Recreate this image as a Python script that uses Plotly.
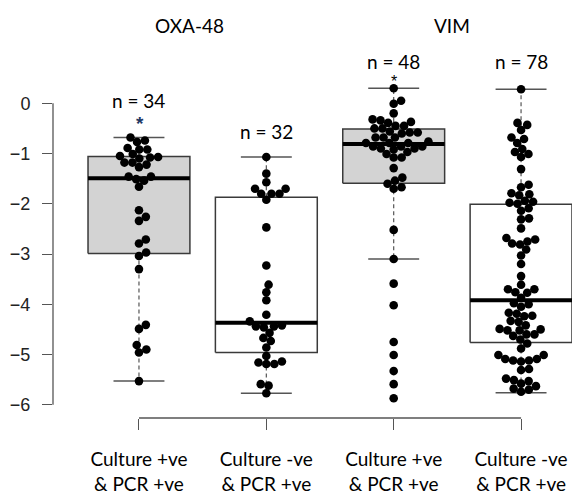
import numpy as np
import plotly.graph_objects as go

# ---------------- data ----------------
categories = ["Culture +ve<br>& PCR +ve", "Culture -ve<br>& PCR +ve",
              "Culture +ve<br>& PCR +ve", "Culture -ve<br>& PCR +ve"]
panel_titles = ["OXA-48", "VIM"]
n_labels = ["n = 34", "n = 32", "n = 48", "n = 78"]
y_ticks = [0, -1, -2, -3, -4, -5, -6]

oxa_culture_pos = [-0.68, -0.77, -0.74, -0.92, -0.92, -0.89, -1.07, -1.18, -1.18, -1.08,
                   -1.01, -1.10, -1.05, -1.27, -1.22, -1.46, -1.51, -1.54, -1.46, -1.66,
                   -2.13, -2.34, -2.26, -2.71, -2.79, -3.04, -2.97, -3.30, -4.41, -4.49,
                   -4.81, -4.96, -4.90, -5.53]
oxa_culture_neg = [-1.07, -1.40, -1.57, -1.70, -1.70, -1.80, -1.80, -1.80, -1.92, -2.47,
                   -3.23, -3.61, -3.76, -3.92, -4.21, -4.34, -4.44, -4.46, -4.44, -4.42,
                   -4.57, -4.67, -4.73, -4.86, -5.03, -5.16, -5.19, -5.19, -5.14, -5.59,
                   -5.62, -5.77]
vim_culture_pos = [0.30, 0.05, -0.01, -0.20, -0.32, -0.34, -0.37, -0.39, -0.45, -0.45,
                   -0.50, -0.50, -0.56, -0.58, -0.60, -0.68, -0.68, -0.76, -0.79, -0.79,
                   -0.86, -0.86, -0.86, -0.90, -0.90, -0.92, -0.97, -1.01, -1.08, -1.08,
                   -1.29, -1.48, -1.54, -1.60, -1.67, -1.70, -0.58, -0.68, -0.79,
                   -2.52, -3.10, -3.59, -4.02, -4.75, -5.01, -5.33, -5.59, -5.87]
vim_culture_neg = [0.28, -0.39, -0.43, -0.53, -0.68, -0.71, -0.79, -0.91, -0.97, -1.01,
                   -1.07, -1.31, -1.62, -1.67, -1.81, -1.83, -1.79, -2.00, -1.96, -1.98,
                   -1.94, -2.14, -2.09, -2.29, -2.31, -2.49, -2.68, -2.71,
                   -2.79, -2.81, -2.75, -2.91, -3.03, -3.20, -3.44, -3.61, -3.70, -3.77,
                   -3.76, -3.70, -3.87, -4.00, -4.05, -3.98, -4.17, -4.19, -4.24, -4.23,
                   -4.33, -4.35, -4.42, -4.52, -4.60, -4.49, -4.52, -4.60, -4.50,
                   -4.63, -4.70, -4.78, -4.88, -5.01, -5.09, -5.12, -5.14, -5.12, -5.09,
                   -5.01, -5.31, -5.29, -5.53, -5.58, -5.68, -5.74, -5.51, -5.70, -5.63,
                   -5.48]
series = [oxa_culture_pos, oxa_culture_neg, vim_culture_pos, vim_culture_neg]

# box statistics
box_lower = [-5.53, -5.77, -3.10, -5.76]
box_q1 = [-2.99, -4.96, -1.59, -4.76]
box_median = [-1.49, -4.37, -0.81, -3.92]
box_q3 = [-1.06, -1.87, -0.51, -2.01]
box_upper = [-0.68, -1.07, 0.30, 0.28]
box_fill = ["#d3d3d3", "#ffffff", "#d3d3d3", "#ffffff"]

# ---------------- layout geometry ----------------
W, H = 572, 495
ML, MR, MT, MB = 53, 0, 40, 70
XR = [0.325, 4.40]
YR = [-6.264, 1.26]
px_per_x = (W - ML - MR) / (XR[1] - XR[0])
px_per_y = (H - MT - MB) / (YR[1] - YR[0])
DOT = 8.0  # beeswarm spacing in px


def swarm(values):
    """Beeswarm 'swarm' placement (as in R beeswarm, priority ascending)."""
    v = np.asarray(values, float)
    order = np.argsort(v, kind="stable")
    ys = v[order] * px_per_y / DOT
    offs = np.zeros(len(ys))
    for i in range(1, len(ys)):
        yi = ys[i]
        pre_y, pre_x = ys[:i], offs[:i]
        hit = (pre_y - yi) ** 2 < 1
        py, pxx = pre_y[hit], pre_x[hit]
        d = np.sqrt(1 - (yi - py) ** 2)
        cand = np.concatenate([[0.0], pxx + d, pxx - d])
        bad = np.array([np.any((yi - py) ** 2 + (c - pxx) ** 2 < 0.999) for c in cand])
        cand[bad] = np.inf
        offs[i] = cand[np.argmin(np.abs(cand))]
    out = np.empty(len(v))
    out[order] = offs * DOT / px_per_x
    return out


fig = go.Figure()
HW, CAP = 0.4, 0.2
for i in range(4):
    c = i + 1
    # box
    fig.add_trace(go.Scatter(
        x=[c - HW, c + HW, c + HW, c - HW, c - HW],
        y=[box_q1[i], box_q1[i], box_q3[i], box_q3[i], box_q1[i]],
        mode="lines", fill="toself", fillcolor=box_fill[i],
        line=dict(color="#3a3a3a", width=1.5), hoverinfo="skip", showlegend=False))
    # whiskers (dashed)
    for a, b in [(box_q3[i], box_upper[i]), (box_q1[i], box_lower[i])]:
        fig.add_trace(go.Scatter(x=[c, c], y=[a, b], mode="lines",
                                 line=dict(color="#555555", width=1.2, dash="4px,3px"),
                                 hoverinfo="skip", showlegend=False))
    # caps
    for b in [box_upper[i], box_lower[i]]:
        fig.add_trace(go.Scatter(x=[c - CAP, c + CAP], y=[b, b], mode="lines",
                                 line=dict(color="#555555", width=1.5),
                                 hoverinfo="skip", showlegend=False))
    # median
    fig.add_trace(go.Scatter(x=[c - HW, c + HW], y=[box_median[i]] * 2, mode="lines",
                             line=dict(color="#000000", width=4),
                             hoverinfo="skip", showlegend=False))

for i, vals in enumerate(series):
    xo = swarm(vals)
    fig.add_trace(go.Scatter(
        x=(i + 1) + xo, y=vals, mode="markers",
        marker=dict(color="#000000", size=8.6, line=dict(width=0)),
        showlegend=False, cliponaxis=False))

# axis lines (R style: only spanning the ticks)
fig.add_shape(type="line", xref="paper", yref="y", x0=0, x1=0,
              y0=min(y_ticks), y1=max(y_ticks), line=dict(color="#555555", width=1.3))
fig.add_shape(type="line", xref="x", yref="paper", x0=1, x1=4, y0=0, y1=0,
              line=dict(color="#555555", width=1.3))

label_font = dict(family="Lato, Calibri, sans-serif", size=19, color="#000000")
ann = []
title_x = [1.4, 3.46]
for t, xx in zip(panel_titles, title_x):
    ann.append(dict(x=xx, y=1.039, xref="x", yref="paper", yanchor="middle",
                    text=t, showarrow=False, font=label_font))
n_y = [0.06, -0.56, 0.84, 0.84]
for i, t in enumerate(n_labels):
    ann.append(dict(x=i + 1, y=n_y[i], xref="x", yref="y", yanchor="middle",
                    text=t, showarrow=False, font=label_font))
ann.append(dict(x=1.01, y=-0.40, xref="x", yref="y", yanchor="middle", text="<b>*</b>",
                showarrow=False,
                font=dict(family="Liberation Sans, Arial", size=19, color="#1f3864")))
ann.append(dict(x=3.0, y=0.44, xref="x", yref="y", yanchor="middle", text="*",
                showarrow=False,
                font=dict(family="Liberation Sans, Arial", size=16, color="#000000")))

fig.update_layout(
    width=W, height=H,
    margin=dict(l=ML, r=MR, t=MT, b=MB, pad=0),
    paper_bgcolor="white", plot_bgcolor="white",
    showlegend=False,
    annotations=ann,
    xaxis=dict(range=XR, showgrid=False, zeroline=False, showline=False,
               tickmode="array", tickvals=[1, 2, 3, 4], ticktext=categories,
               ticks="outside", ticklen=11, tickwidth=1.3, tickcolor="#555555",
               tickfont=label_font, ticklabelstandoff=13),
    yaxis=dict(range=YR, showgrid=False, zeroline=False, showline=False,
               tickmode="array", tickvals=y_ticks,
               ticktext=[str(v) if v == 0 else "\u2212" + str(-v) for v in y_ticks],
               ticks="outside", ticklen=10, tickwidth=1.3, tickcolor="#555555",
               tickfont=dict(family="Liberation Sans, Arial", size=18, color="#222222"),
               ticklabelstandoff=8),
)

fig.write_html("out.html")
